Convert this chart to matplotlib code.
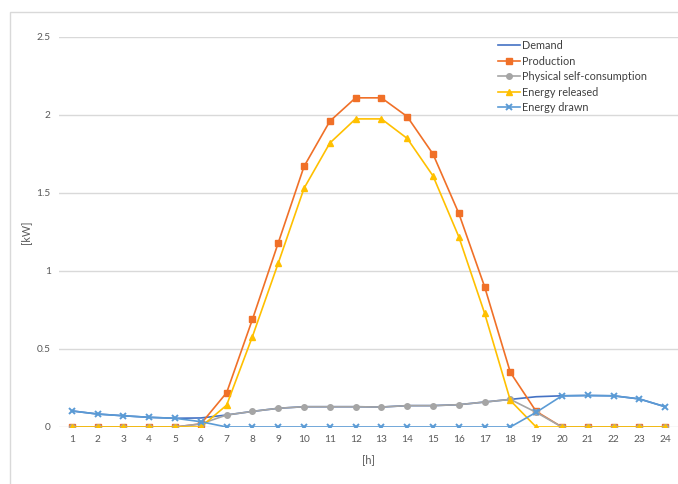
import matplotlib.pyplot as plt
from matplotlib.patches import Rectangle

hours = list(range(1, 25))
demand = [0.103, 0.083, 0.072, 0.062, 0.056, 0.058, 0.077, 0.10, 0.12, 0.13, 0.13, 0.13,
          0.128, 0.137, 0.137, 0.143, 0.16, 0.177, 0.194, 0.20, 0.202, 0.20, 0.18, 0.13]
production = [0, 0, 0, 0, 0, 0.02, 0.22, 0.69, 1.18, 1.67, 1.96, 2.11,
              2.11, 1.99, 1.75, 1.37, 0.90, 0.35, 0.10, 0, 0, 0, 0, 0]
self_cons = [0, 0, 0, 0, 0, 0.02, 0.077, 0.10, 0.12, 0.13, 0.13, 0.13,
             0.128, 0.137, 0.137, 0.143, 0.16, 0.177, 0.094, 0, 0, 0, 0, 0]
released = [0, 0, 0, 0, 0, 0, 0.14, 0.58, 1.05, 1.53, 1.82, 1.975,
            1.975, 1.85, 1.61, 1.22, 0.73, 0.17, 0, 0, 0, 0, 0, 0]
drawn = [0.103, 0.083, 0.072, 0.062, 0.056, 0.034, 0, 0, 0, 0, 0, 0,
         0, 0, 0, 0, 0, 0, 0.094, 0.20, 0.202, 0.20, 0.18, 0.13]
y_ticks = [0, 0.5, 1, 1.5, 2, 2.5]
y_labels = ["0", "0.5", "1", "1.5", "2", "2.5"]

plt.rcParams['font.family'] = ['Lato', 'DejaVu Sans']

fig = plt.figure(figsize=(6.78, 4.84), dpi=100, facecolor='white')
fig.patches.append(Rectangle((10 / 678, -0.1), 1.1, 0.1 + (484 - 12) / 484,
                             transform=fig.transFigure, fill=False,
                             edgecolor='#D9D9D9', linewidth=1.0))
ax = fig.add_axes([59 / 678, 57 / 484, 619 / 678, 390 / 484])

lw = 1.2
ax.plot(hours, demand, color='#4472C4', lw=lw, label='Demand')
ax.plot(hours, production, color='#F07028', lw=lw, marker='s', ms=4, label='Production')
ax.plot(hours, self_cons, color='#A5A5A5', lw=lw, marker='o', ms=4, label='Physical self-consumption')
ax.plot(hours, released, color='#FFC000', lw=lw, marker='^', ms=4.3, label='Energy released')
ax.plot(hours, drawn, color='#5B9BD5', lw=lw, marker='x', ms=3.8, mew=1.4, label='Energy drawn')

ax.set_xlim(0.5, 24.5)
ax.set_ylim(0, 2.5)
ax.set_xticks(hours)
ax.set_xticklabels([str(h) for h in hours])
ax.set_yticks(y_ticks)
ax.set_yticklabels(y_labels)
ax.tick_params(length=0, labelsize=7.3, colors='#595959', pad=6)
for s in ax.spines.values():
    s.set_visible(False)
ax.grid(axis='y', color='#D9D9D9', lw=1.0)
ax.set_axisbelow(True)
ax.set_facecolor('none')
ax.set_ylabel('[kW]', fontsize=7.8, color='#595959', labelpad=4)
ax.set_xlabel('[h]', fontsize=7.8, color='#595959', labelpad=7)

leg = ax.legend(loc='upper left', bbox_to_anchor=(0.7, 1.006), frameon=False,
                fontsize=7.8, handlelength=2.1, handletextpad=0.15,
                labelspacing=0.42, borderpad=0)
for t in leg.get_texts():
    t.set_color('#404040')

fig.savefig('out.png', dpi=100)
